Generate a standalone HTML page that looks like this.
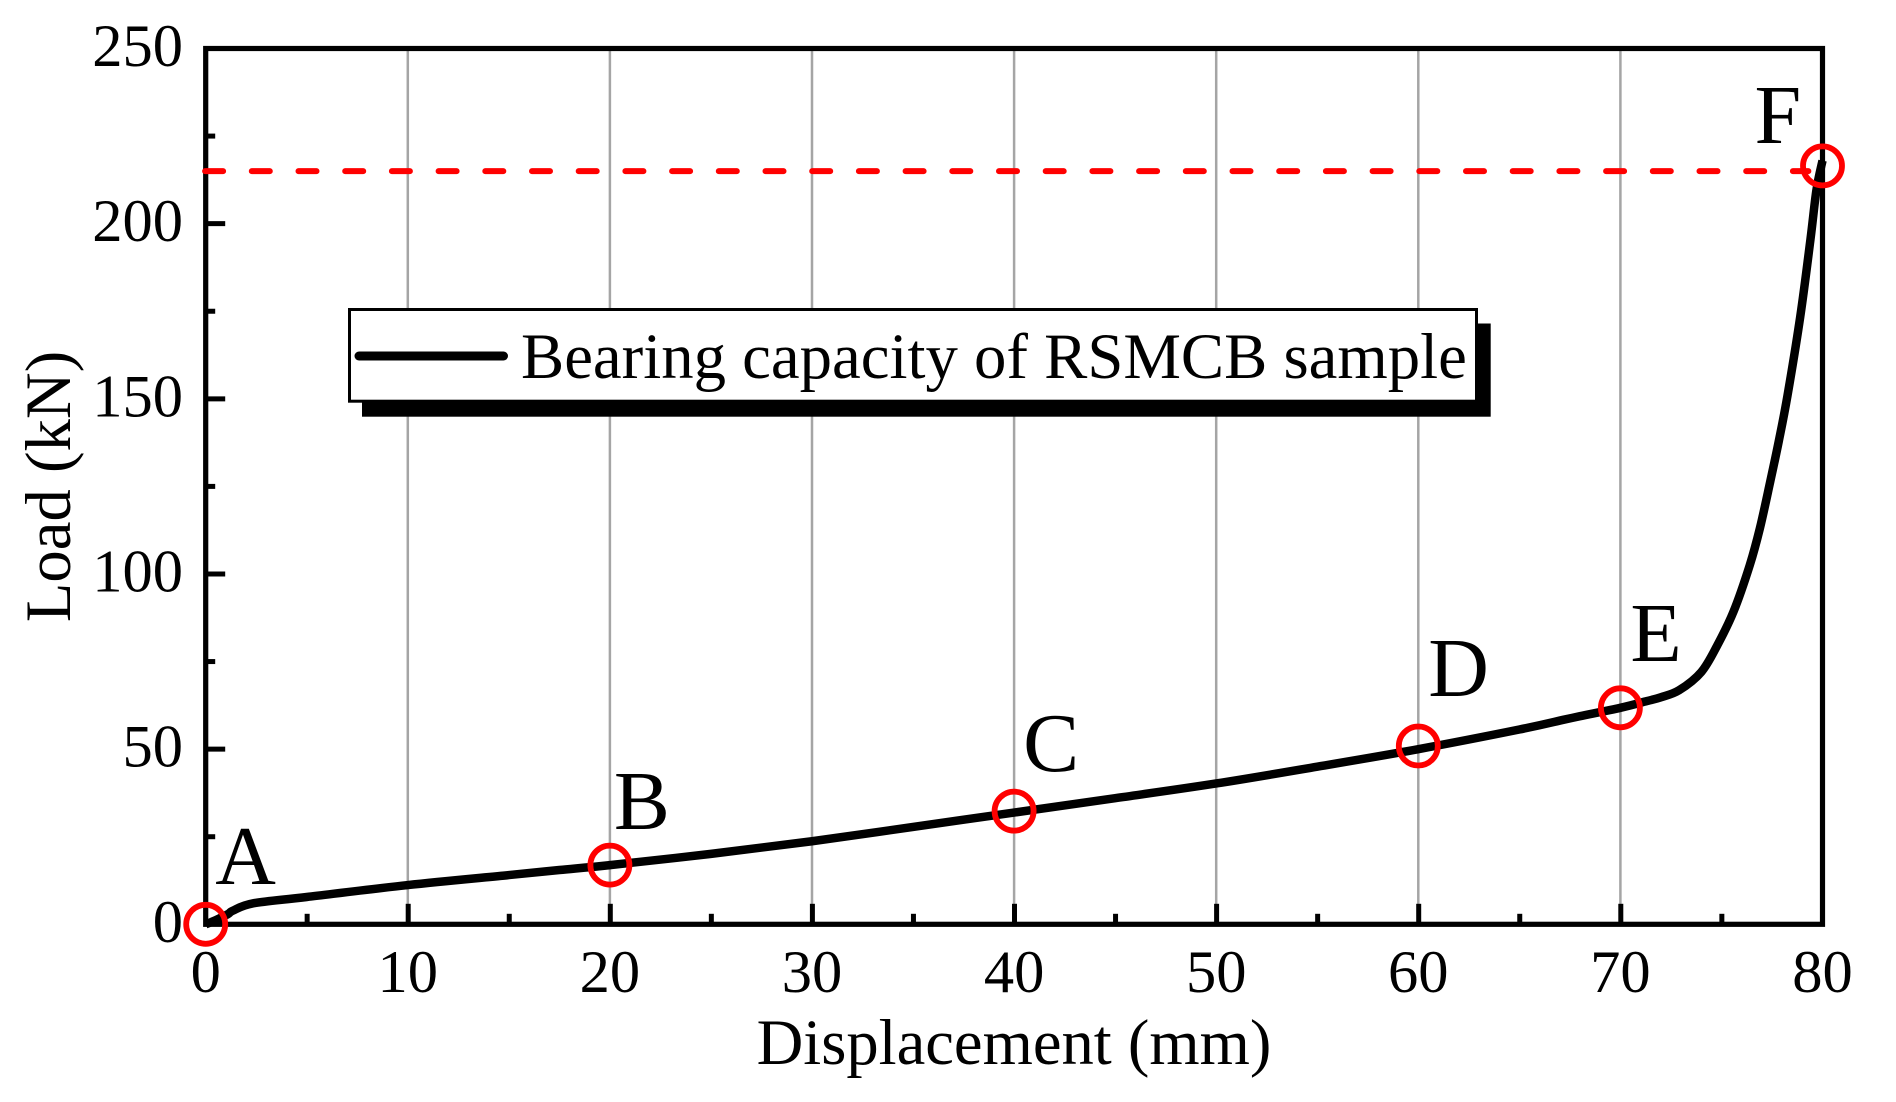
<!DOCTYPE html>
<html lang="en">
<head>
<meta charset="utf-8">
<title>Bearing capacity of RSMCB sample</title>
<style>
html,body{margin:0;padding:0;background:#fff;}
svg{display:block;}
text{font-family:"Liberation Serif",serif;fill:#000;}
</style>
</head>
<body>
<svg id="chart" xmlns="http://www.w3.org/2000/svg" width="1896" height="1102" viewBox="0 0 1896 1102">
  <rect x="0" y="0" width="1896" height="1102" fill="#fff"/>
  <g id="grid"></g>
  <g id="ticks"></g>
  <rect x="205.7" y="48.5" width="1616.8" height="875.8" fill="none" stroke="#000" stroke-width="5.2"/>
  <g id="tick-labels"></g>
  <text x="1014" y="1064" font-size="64.6" text-anchor="middle">Displacement (mm)</text>
  <text x="70" y="486.5" font-size="64.7" text-anchor="middle" transform="rotate(-90 70 486.5)">Load (kN)</text>
  <g id="plot"></g>
  <g>
    <rect x="362" y="323.5" width="1128.7" height="93.2" fill="#000"/>
    <rect x="349.5" y="309.5" width="1127" height="91.7" fill="#fff" stroke="#000" stroke-width="3"/>
    <line x1="359" y1="356" x2="503.5" y2="356" stroke="#000" stroke-width="9" stroke-linecap="round"/>
    <text x="521" y="378" font-size="64.75">Bearing capacity of RSMCB sample</text>
  </g>
</svg>
<script>
var displacement = [0,0.5,1.1,1.35,2.35,5,10,15,17.5,20,25,30,35,40,45,50,55,60,65,67.2,68,70,71.3,72,72.9,74,74.8,75.6,76.4,76.9,77.4,77.84,78.27,78.9,79.4,79.7,80];
var load = [0,1.2,2.9,3.9,6,7.8,11.2,14.05,15.5,16.9,20.1,23.7,27.8,31.9,36,40.2,45,50,55.6,58.4,59.4,61.8,63.7,64.8,66.8,72,79.7,89.3,102.5,113,126,138,151,173.5,195.3,209.6,218];
var xTickLabels = ["0","10","20","30","40","50","60","70","80"];
var yTickLabels = ["0","50","100","150","200","250"];
var gridValues = [10,20,30,40,50,60,70];
var pointNames = ["A","B","C","D","E","F"];
var pointX = [0,20,40,60,70,80];
var pointY = [0,16.9,32.3,50.9,61.8,216.5];
var peakLoad = 215;
var peakLineEnd = 79.3;

var NS = 'http://www.w3.org/2000/svg';
var X0 = 205.7, X1 = 1822.5, Y0 = 924.3, Y1 = 48.5;
var XMAX = 80, YMAX = 250;
function sx(v){ return X0 + (X1 - X0) * v / XMAX; }
function sy(v){ return Y0 - (Y0 - Y1) * v / YMAX; }
function make(tag, parent){
  var el = document.createElementNS(NS, tag);
  parent.appendChild(el);
  return el;
}
function setLine(el, x1, y1, x2, y2, color, width){
  el.setAttribute('x1', x1);
  el.setAttribute('y1', y1);
  el.setAttribute('x2', x2);
  el.setAttribute('y2', y2);
  el.setAttribute('stroke', color);
  el.setAttribute('stroke-width', width);
}
function smoothPath(xs, ys){
  var d = 'M' + sx(xs[0]).toFixed(2) + ' ' + sy(ys[0]).toFixed(2);
  for (var i = 0; i < xs.length - 1; i++) {
    var p0x = sx(xs[Math.max(i - 1, 0)]), p0y = sy(ys[Math.max(i - 1, 0)]);
    var p1x = sx(xs[i]), p1y = sy(ys[i]);
    var p2x = sx(xs[i + 1]), p2y = sy(ys[i + 1]);
    var j = Math.min(i + 2, xs.length - 1);
    var p3x = sx(xs[j]), p3y = sy(ys[j]);
    var c1x = p1x + (p2x - p0x) / 6, c1y = p1y + (p2y - p0y) / 6;
    var c2x = p2x - (p3x - p1x) / 6, c2y = p2y - (p3y - p1y) / 6;
    d += 'C' + c1x.toFixed(2) + ' ' + c1y.toFixed(2) + ' ' + c2x.toFixed(2) + ' ' + c2y.toFixed(2) + ' ' + p2x.toFixed(2) + ' ' + p2y.toFixed(2);
  }
  return d;
}

var gridG = document.getElementById('grid');
var ticksG = document.getElementById('ticks');
var labelsG = document.getElementById('tick-labels');
var plotG = document.getElementById('plot');

gridValues.forEach(function(v){
  var el = make('line', gridG);
  
  
  setLine(el, sx(v), Y1, sx(v), Y0, '#a5a5a5', 2.5);
});

var xStep = XMAX / (xTickLabels.length - 1);
var yStep = YMAX / (yTickLabels.length - 1);

xTickLabels.forEach(function(label, i){
  var v = i * xStep;
  if (i > 0 && i < xTickLabels.length - 1) {
    var t = make('line', ticksG);
    
    
    setLine(t, sx(v) + 0.4, Y0, sx(v) + 0.4, Y0 - 20.5, '#000', 5);
  }
  if (i < xTickLabels.length - 1) {
    var m = make('line', ticksG);
    
    
    setLine(m, sx(v + xStep / 2) + 0.4, Y0, sx(v + xStep / 2) + 0.4, Y0 - 10.5, '#000', 5);
  }
  var txt = make('text', labelsG);
  
  
  txt.setAttribute('x', sx(v));
  txt.setAttribute('y', 992);
  txt.setAttribute('font-size', '60.5');
  txt.setAttribute('text-anchor', 'middle');
  txt.textContent = label;
});

yTickLabels.forEach(function(label, i){
  var v = i * yStep;
  if (i > 0 && i < yTickLabels.length - 1) {
    var t = make('line', ticksG);
    
    
    setLine(t, X0, sy(v), X0 + 19.5, sy(v), '#000', 5);
  }
  if (i < yTickLabels.length - 1) {
    var m = make('line', ticksG);
    
    
    setLine(m, X0, sy(v + yStep / 2), X0 + 9.5, sy(v + yStep / 2), '#000', 5);
  }
  var txt = make('text', labelsG);
  
  
  txt.setAttribute('x', 183);
  txt.setAttribute('y', sy(v) + 17.5);
  txt.setAttribute('font-size', '60.5');
  txt.setAttribute('text-anchor', 'end');
  txt.textContent = label;
});

var curve = make('path', plotG);


curve.setAttribute('fill', 'none');
curve.setAttribute('stroke', '#000');
curve.setAttribute('stroke-width', '8.5');
curve.setAttribute('stroke-linejoin', 'round');
curve.setAttribute('d', smoothPath(displacement, load));

var peak = make('line', plotG);


setLine(peak, 205.1, sy(peakLoad), sx(peakLineEnd), sy(peakLoad), '#ff0000', 6);
peak.setAttribute('stroke-dasharray', '18 28.7');
peak.setAttribute('stroke-linecap', 'round');

var labelOffsetX = [9.5, 4, 9, 10, 10, -68];
var labelOffsetY = [-40.5, -36, -40, -50, -47, -23];
pointNames.forEach(function(name, i){
  var c = make('circle', plotG);
  
  
  c.setAttribute('cx', sx(pointX[i]));
  c.setAttribute('cy', sy(pointY[i]));
  c.setAttribute('r', '19.5');
  c.setAttribute('fill', 'none');
  c.setAttribute('stroke', '#ff0000');
  c.setAttribute('stroke-width', '5.8');
  var t = make('text', plotG);
  
  
  t.setAttribute('x', sx(pointX[i]) + labelOffsetX[i]);
  t.setAttribute('y', sy(pointY[i]) + labelOffsetY[i]);
  t.setAttribute('font-size', '84');
  t.textContent = name;
});
</script>
</body>
</html>
